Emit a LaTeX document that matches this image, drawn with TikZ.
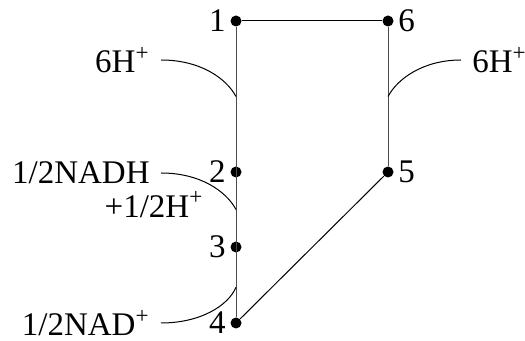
\documentclass[tikz,border=0pt]{standalone}
\usepackage{fontspec}
\setmainfont{Liberation Serif}
\usetikzlibrary{calc,positioning}

\begin{document}
\begin{tikzpicture}[x=0.5pt,y=-0.5pt,
  dot/.style={circle,fill,inner sep=0pt,minimum size=5.5pt},
  lbl/.style={font=\fontsize{16.5}{18}\selectfont,inner sep=2pt},
  side/.style={draw=black!70,line width=0.5pt},
  link/.style={line width=0.5pt}]
\useasboundingbox (0,0) rectangle (525,341);
% the six sites
\node[dot,label={[lbl]left:1}] (n1) at (236,21) {};
\node[dot,label={[lbl]right:6}] (n6) at (388,21) {};
\node[dot,label={[lbl]left:2}] (n2) at (236,172) {};
\node[dot,label={[lbl]right:5}] (n5) at (388,172) {};
\node[dot,label={[lbl]left:3}] (n3) at (236,247) {};
\node[dot,label={[lbl]left:4}] (n4) at (236,323) {};
\draw[side] (n1) -- (n4);
\draw[side] (n6) -- (n5);
\draw[link] (n1) -- (n6);
\draw[link] (n4) -- (n5);
% where the curves meet the lines
\coordinate (m12) at ($(n1)!0.5!(n2)$);
\coordinate (m23) at ($(n2)!0.5!(n3)$);
\coordinate (m34) at ($(n3)!0.53!(n4)$);
\coordinate (m65) at ($(n6)!0.5!(n5)$);
% side labels
\node[lbl,anchor=east] (hl) at (154,60) {6H\textsuperscript{+}};
\node[lbl,anchor=west] (hr) at (468,60) {6H\textsuperscript{+}};
\node[lbl,anchor=east] (nadh) at (154,173) {1/2NADH};
\node[lbl,anchor=north east,below=-0.5pt of nadh.south east] (hp) {+1/2H\textsuperscript{+}};
\node[lbl,anchor=east] (nad) at (154,323) {1/2NAD\textsuperscript{+}};
% curves
\draw[link] ([xshift=3.5pt]hl.east) .. controls (200,60) and (226,78) .. (m12);
\draw[link] ([xshift=-3.5pt]hr.west) .. controls (424,60) and (398,78) .. (m65);
\draw[link] ([xshift=3.5pt]nadh.east) .. controls (200,173) and (226,191) .. (m23);
\draw[link] ([xshift=3.5pt]nad.east) .. controls (200,323) and (228,306) .. (m34);
\end{tikzpicture}
\end{document}
